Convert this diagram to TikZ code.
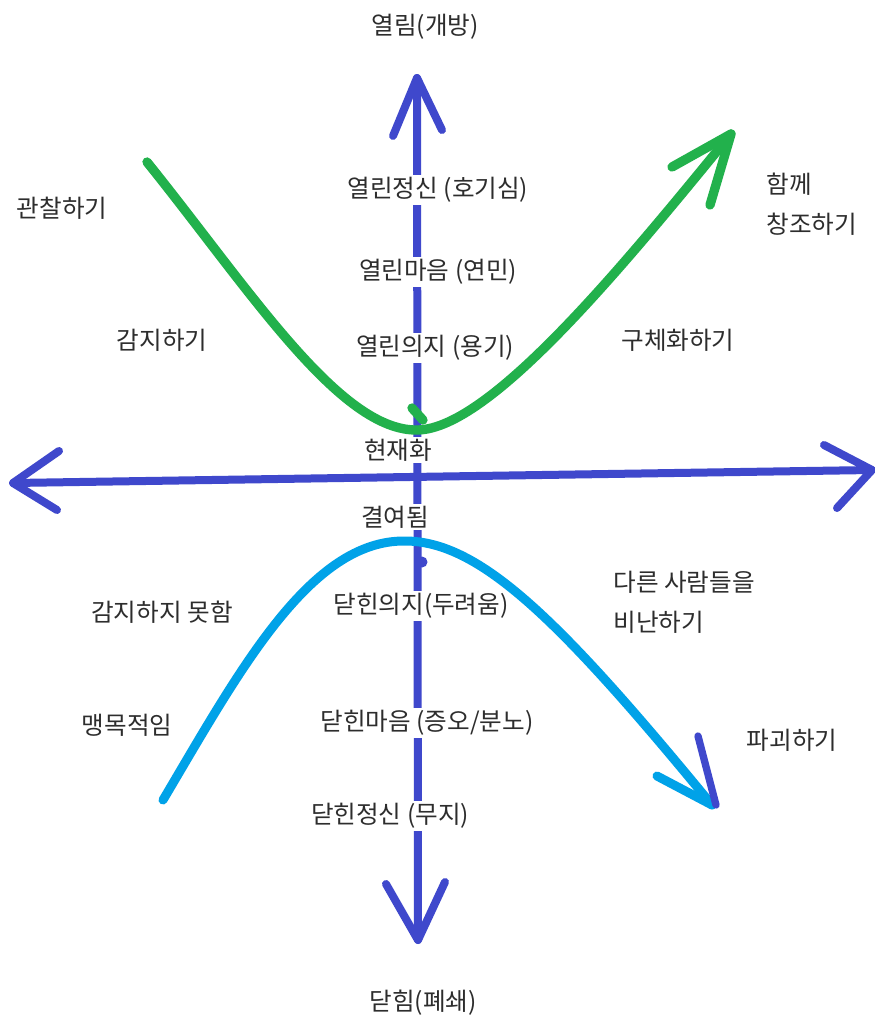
\documentclass[tikz,border=0pt]{standalone}
\usepackage{fontspec}
\newfontfamily\krfont{Noto Sans CJK KR}
\definecolor{indigo}{RGB}{63,72,204}
\definecolor{pgreen}{RGB}{34,177,76}
\definecolor{pcyan}{RGB}{0,162,232}
\definecolor{txt}{RGB}{45,45,45}
\tikzset{
  axisline/.style={draw=indigo, line width=0.24cm, line cap=round, line join=round},
  greenline/.style={draw=pgreen, line width=0.28cm, line cap=round, line join=round},
  cyanline/.style={draw=pcyan, line width=0.27cm, line cap=round, line join=round},
  lbl/.style={font=\krfont\fontsize{21}{34}\selectfont, text=txt, inner sep=2pt},
  axlbl/.style={lbl, fill=white},
}
\begin{document}
\begin{tikzpicture}[x=0.03cm, y=-0.03cm]
\useasboundingbox (0,0) rectangle (875,1024);
\fill[white] (0,0) rectangle (875,1024);

% coordinates of axes
\coordinate (vtop) at (417,78);
\coordinate (vbot) at (418,940);
\coordinate (vta) at (393,136);
\coordinate (vtb) at (442,130);
\coordinate (vba) at (386,884);
\coordinate (vbb) at (445,882);
\coordinate (hleft) at (13,483);
\coordinate (hright) at (872,470);
\coordinate (hla) at (59,451);
\coordinate (hlb) at (57,510);
\coordinate (hra) at (824,445);
\coordinate (hrb) at (837,508);

% axes
\draw[axisline] (vtop) -- (vbot);
\draw[axisline] (vta) -- (vtop) -- (vtb);
\draw[axisline] (vba) -- (vbot) -- (vbb);
\draw[axisline] (hleft) -- (hright);
\draw[axisline] (hla) -- (hleft) -- (hlb);
\draw[axisline] (hra) -- (hright) -- (hrb);
\fill[indigo] (422,562) circle (5.5);

% axis labels (white background breaks the vertical axis)
\node[lbl] (open) at (425,27) {열림(개방)};
\node[axlbl] (o1) at (438,190) {열린정신 (호기심)};
\node[axlbl] (o2) at (438,272) {열린마음 (연민)};
\node[axlbl] (o3) at (435,348) {열린의지 (용기)};
\node[axlbl] (act) at (398,450) {현재화};
\node[axlbl] (lack) at (395,517) {결여됨};
\node[axlbl] (c3) at (421,606) {닫힌의지(두려움)};
\node[axlbl] (c2) at (427,723) {닫힌마음 (증오/분노)};
\node[axlbl] (c1) at (390,816) {닫힌정신 (무지)};
\node[lbl] (closed) at (423,1003) {닫힘(폐쇄)};

% green curve
\coordinate (gstart) at (147,162);
\coordinate (gmin) at (418,430);
\coordinate (gtip) at (731,134);
\coordinate (ga) at (672,167);
\coordinate (gb) at (710,205);
\draw[greenline] (gstart) .. controls (250,290) and (340,432) .. (gmin)
                 .. controls (490,428) and (620,270) .. (gtip);
\draw[greenline] (ga) -- (gtip) -- (gb);
\draw[greenline] (412,408) -- (423,420);

% cyan curve
\coordinate (cstart) at (163,800);
\coordinate (cpeak) at (405,541);
\coordinate (ctip) at (712,805);
\coordinate (ca) at (657,776);
\coordinate (cb) at (698,736);
\draw[cyanline] (cstart) .. controls (240,670) and (310,540) .. (cpeak)
                .. controls (480,541) and (560,620) .. (ctip);
\draw[cyanline] (ca) -- (ctip);
\draw[axisline, line width=0.22cm] (cb) -- (716,805);

% side labels
\node[lbl] (observe) at (62,208) {관찰하기};
\node[lbl] (sense) at (162,340) {감지하기};
\node[lbl] (nosense) at (162,612) {감지하지 못함};
\node[lbl] (blind) at (127,725) {맹목적임};
\node[lbl, anchor=west, align=left] (cocreate) at (764,204) {함께\\창조하기};
\node[lbl] (embody) at (678,340) {구체화하기};
\node[lbl, anchor=west, align=left] (blame) at (611,602) {다른 사람들을\\비난하기};
\node[lbl] (destroy) at (792,740) {파괴하기};
\end{tikzpicture}
\end{document}
